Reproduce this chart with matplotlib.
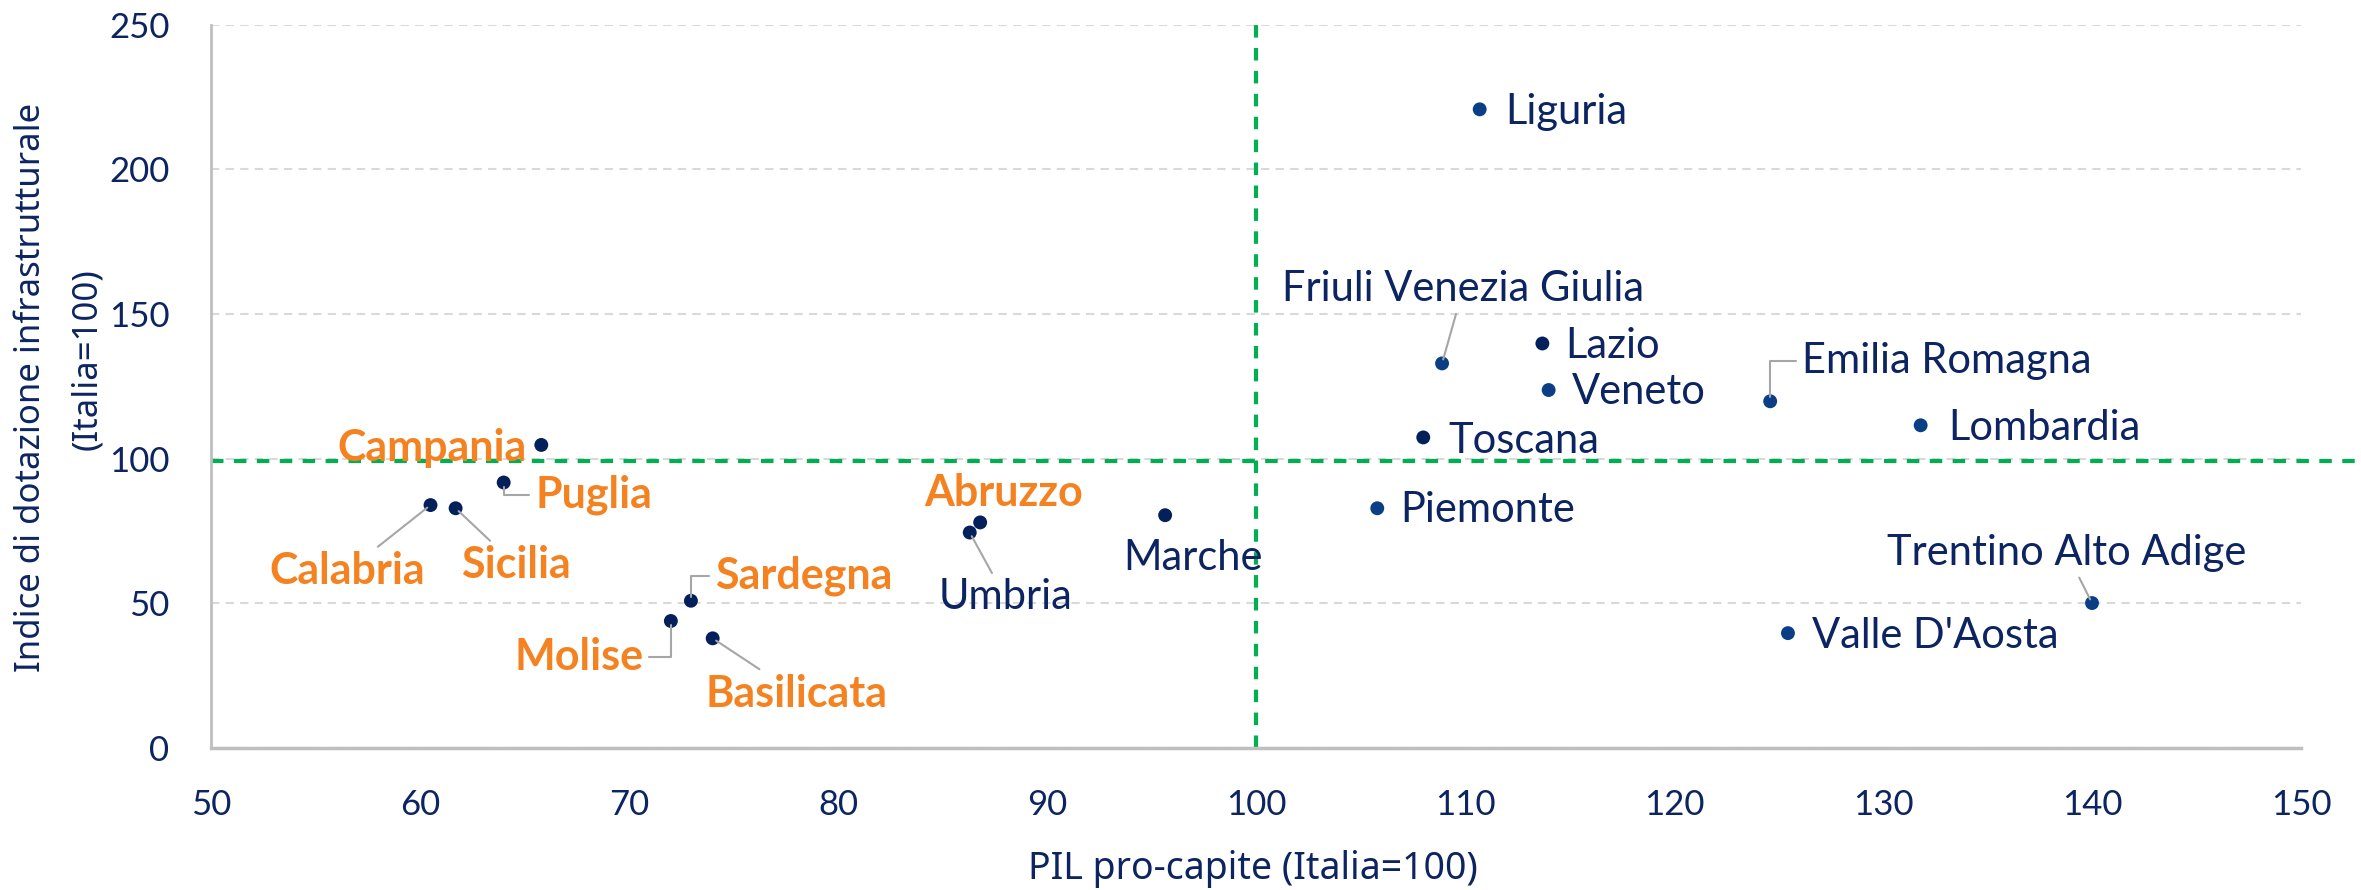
import matplotlib
matplotlib.use('Agg')
import matplotlib.pyplot as plt

plt.rcParams['font.family'] = ['Lato', 'DejaVu Sans']

# data
regioni = ['Liguria', 'Friuli Venezia Giulia', 'Lazio', 'Veneto', 'Toscana',
           'Emilia Romagna', 'Lombardia', 'Piemonte', 'Trentino Alto Adige',
           "Valle D'Aosta", 'Marche', 'Umbria', 'Abruzzo', 'Campania', 'Puglia',
           'Calabria', 'Sicilia', 'Sardegna', 'Molise', 'Basilicata']
pil = [110.7, 108.9, 113.7, 114.0, 108.0, 124.6, 131.8, 105.8, 140.0, 125.45,
       95.65, 86.3, 86.8, 65.8, 64.0, 60.5, 61.7, 72.96, 72.0, 74.0]
infra = [220.8, 132.9, 139.8, 123.7, 107.3, 119.8, 111.5, 82.8, 50.0, 39.6,
         80.4, 74.4, 77.9, 104.7, 91.7, 83.9, 82.8, 50.8, 43.8, 37.8]
sud = ['Abruzzo', 'Campania', 'Puglia', 'Calabria', 'Sicilia', 'Sardegna',
       'Molise', 'Basilicata']
# dots drawn in the lighter blue
blu = ['Liguria', 'Friuli Venezia Giulia', 'Veneto', 'Emilia Romagna',
       'Lombardia', 'Piemonte', 'Trentino Alto Adige', "Valle D'Aosta"]

# label placement (text position, alignment, leader style)
lab = {
    'Liguria': (111.9, 219.8, 'left', None),
    'Friuli Venezia Giulia': (109.9, 158.5, 'center', 'line'),
    'Lazio': (114.8, 139.0, 'left', None),
    'Veneto': (115.1, 123.0, 'left', None),
    'Toscana': (109.2, 106.0, 'left', None),
    'Emilia Romagna': (126.1, 133.9, 'left', 'elbow'),
    'Lombardia': (133.1, 110.4, 'left', None),
    'Piemonte': (106.9, 82.3, 'left', None),
    'Trentino Alto Adige': (138.8, 67.2, 'center', 'line'),
    "Valle D'Aosta": (126.6, 38.5, 'left', None),
    'Marche': (97.0, 65.6, 'center', None),
    'Umbria': (88.0, 52.0, 'center', 'line'),
    'Abruzzo': (87.9, 88.0, 'center', None),
    'Campania': (65.1, 103.6, 'right', None),
    'Puglia': (65.5, 87.5, 'left', 'elbow'),
    'Calabria': (56.5, 61.0, 'center', 'line'),
    'Sicilia': (64.6, 63.0, 'center', 'line'),
    'Sardegna': (74.1, 59.4, 'left', 'elbow'),
    'Molise': (70.7, 31.3, 'right', 'elbow'),
    'Basilicata': (78.0, 18.7, 'center', 'line'),
}

navy = '#0C2461'
orange = '#F58220'
green = '#00B050'

fig = plt.figure(figsize=(23.61, 8.9), dpi=100)
ax = fig.add_axes([0.0894, 0.160, 0.8852, 0.812])

colori = ['#0A3F86' if r in blu else '#04205A' for r in regioni]
ax.scatter(pil, infra, s=100, color=colori, zorder=3, linewidths=0)

ax.axvline(100, color=green, lw=3, linestyle=(0, (3, 2.5)), zorder=2)
ax.plot([50, 152.9], [99, 99], color=green, lw=3, linestyle=(0, (3, 2.5)),
        clip_on=False, zorder=2)

for r, x, y in zip(regioni, pil, infra):
    tx, ty, ha, leader = lab[r]
    if r in sud:
        col, wt, fs = orange, 'bold', 31
    else:
        col, wt, fs = navy, 'normal', 30
    ap = None
    if leader == 'line':
        ap = dict(arrowstyle='-', color='#A6A6A6', lw=1.5, shrinkA=2, shrinkB=3)
    elif leader == 'elbow':
        ap = dict(arrowstyle='-', color='#A6A6A6', lw=1.5, shrinkA=2, shrinkB=3,
                  connectionstyle='angle,angleA=0,angleB=90,rad=0')
    ax.annotate(r, xy=(x, y), xytext=(tx, ty), ha=ha, va='center',
                fontsize=fs, color=col, fontweight=wt, arrowprops=ap, zorder=4)

ax.set_xlim(50, 150)
ax.set_ylim(0, 250)
ax.set_xticks(range(50, 151, 10))
ax.set_yticks(range(0, 251, 50))
ax.tick_params(length=0, pad=30, labelsize=25, labelcolor=navy)
ax.grid(axis='y', color='#D9D9D9', linestyle=(0, (4, 3)), lw=1.5)
ax.set_axisbelow(True)
for s in ['top', 'right']:
    ax.spines[s].set_visible(False)
ax.spines['left'].set_color('#BFBFBF')
ax.spines['left'].set_linewidth(2)
ax.spines['bottom'].set_color('#BFBFBF')
ax.spines['bottom'].set_linewidth(2.5)

# axis titles
fig.text(0.5307, 0.0236, 'PIL pro-capite (Italia=100)', fontsize=27, color=navy,
         family='Noto Sans', ha='center', va='center')
fig.text(0.0131, 0.565, 'Indice di dotazione infrastrutturale', fontsize=25,
         color=navy, family='Noto Sans', rotation=90, ha='center', va='center')
fig.text(0.0368, 0.597, '(Italia=100)', fontsize=25, color=navy,
         family='Noto Sans', rotation=90, ha='center', va='center')

fig.savefig('out.png', dpi=100)
